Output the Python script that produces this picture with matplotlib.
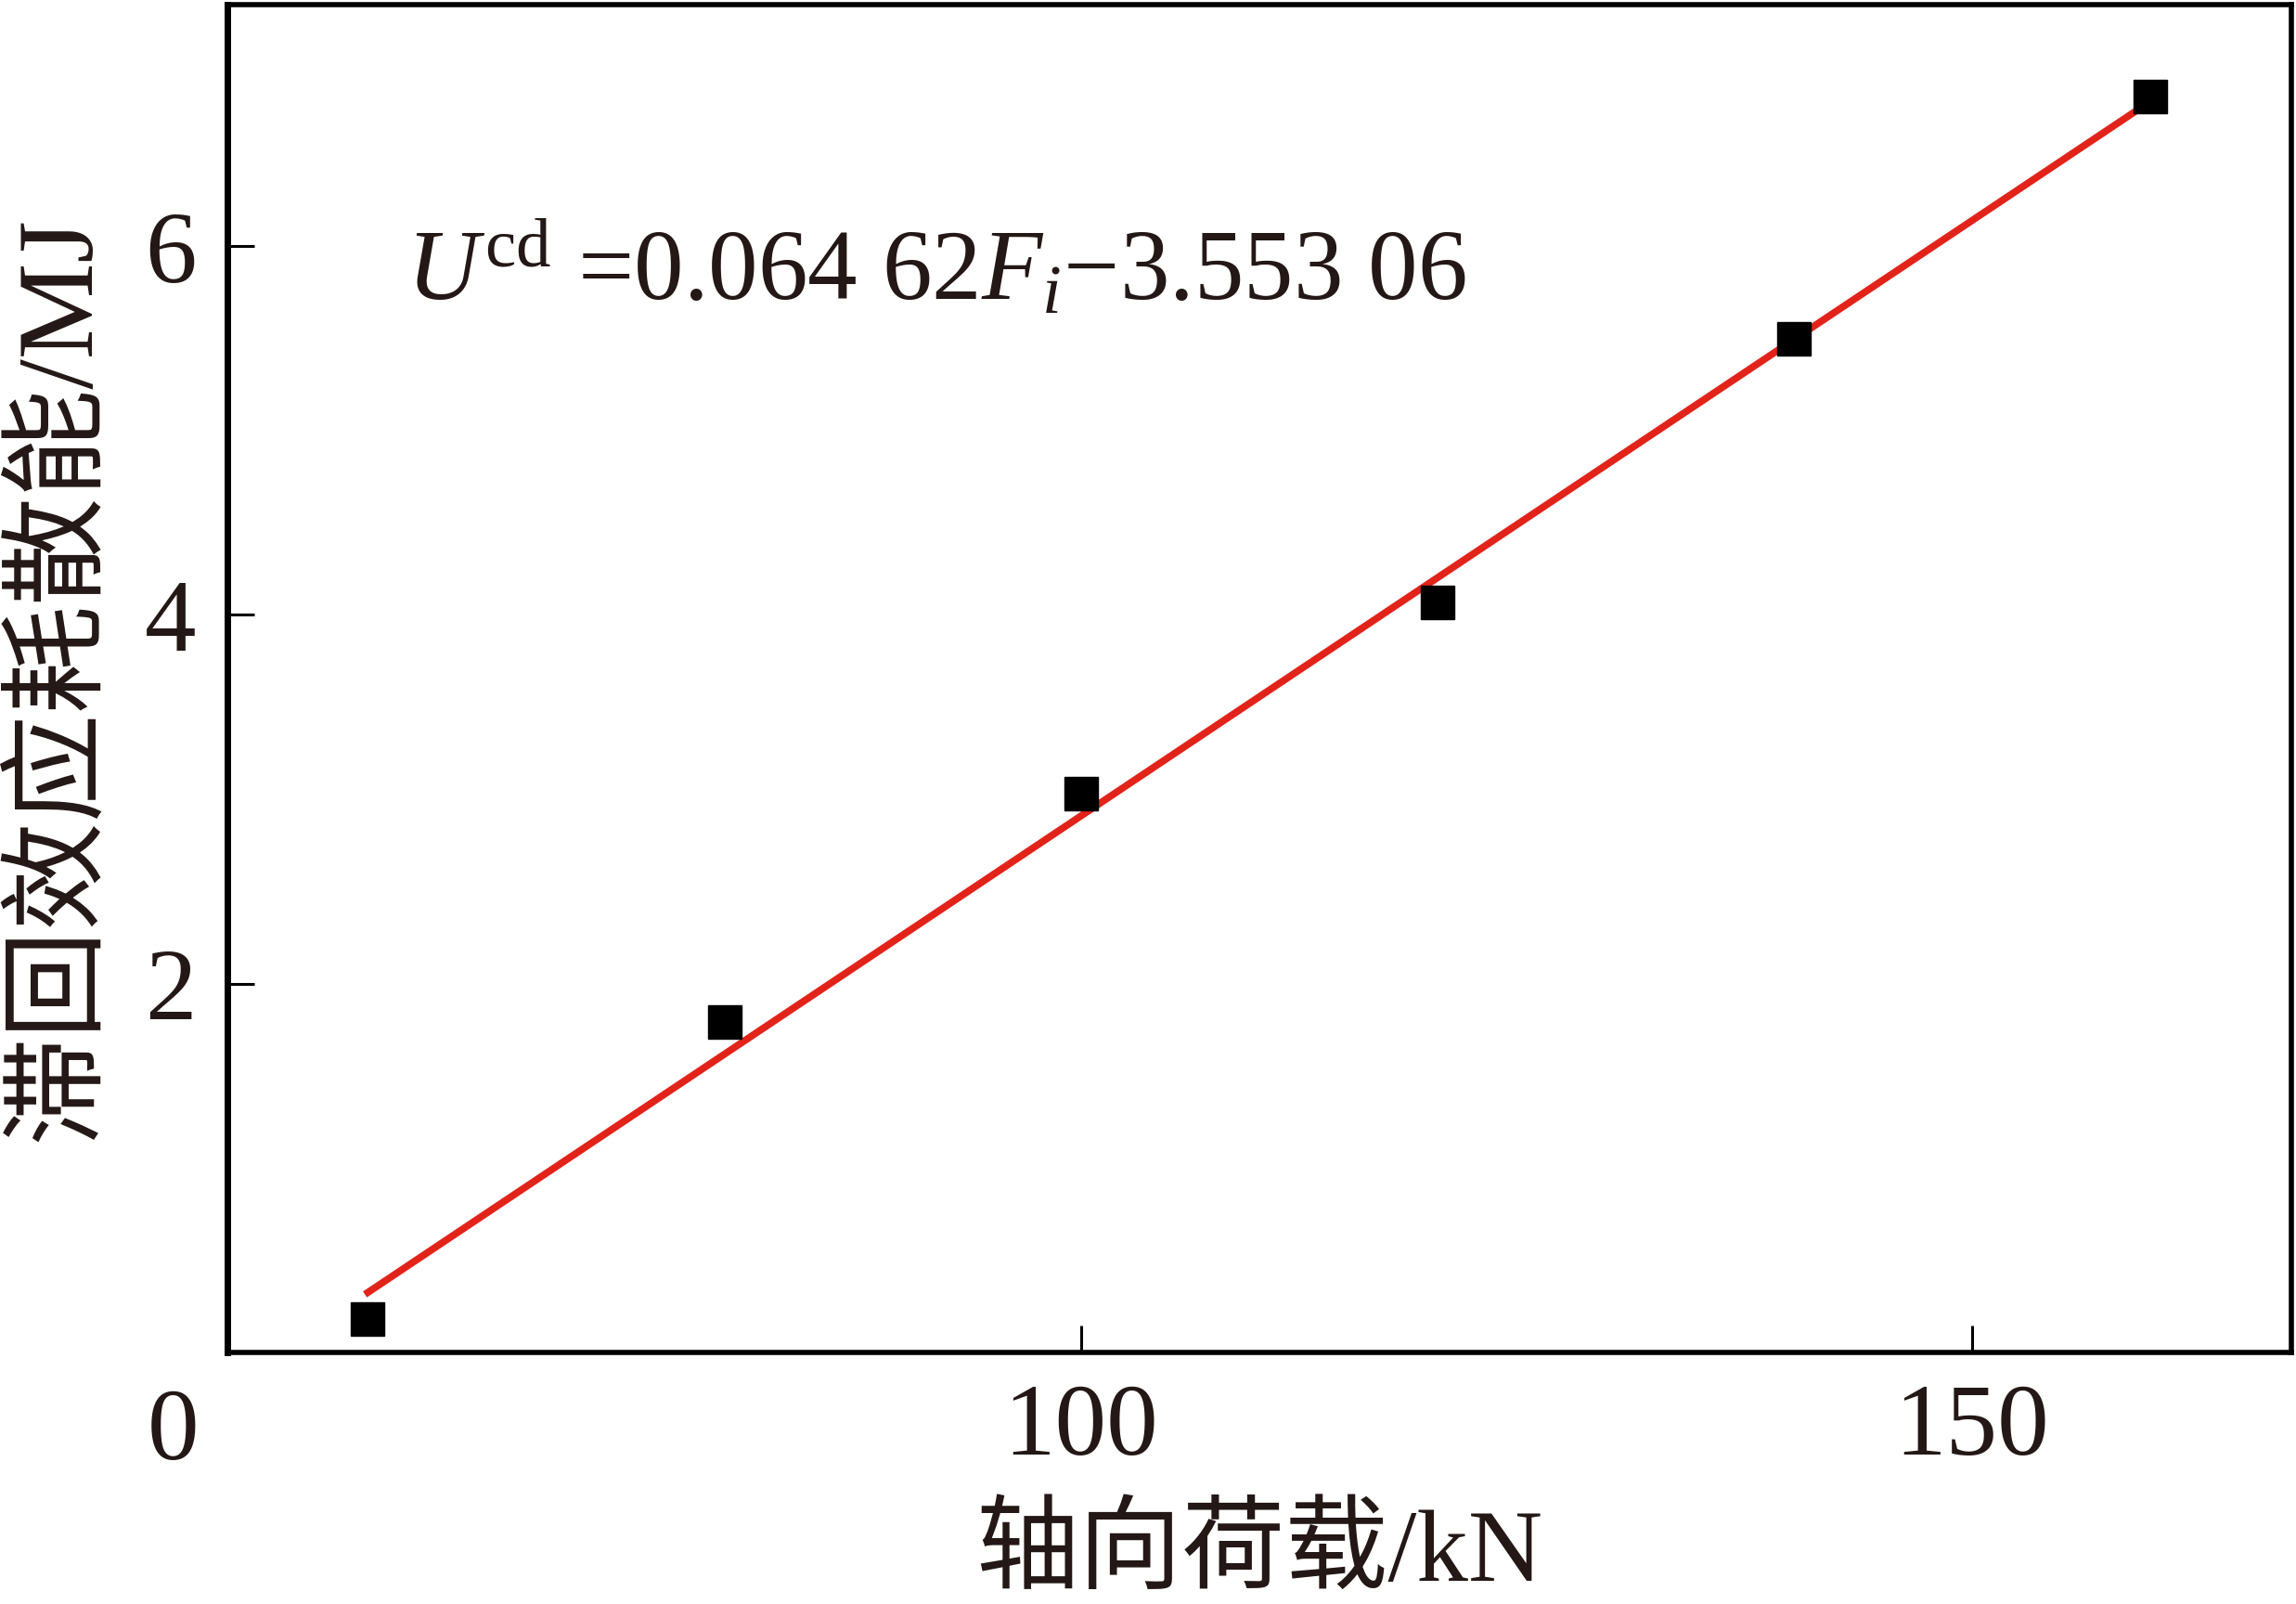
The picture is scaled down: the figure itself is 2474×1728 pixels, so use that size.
import matplotlib
matplotlib.use('Agg')
import matplotlib.pyplot as plt
import numpy as np

# 轴向荷载 / 滞回效应耗散能
load_kn = [60, 80, 100, 120, 140, 160]
energy_mj = [0.18, 1.79, 3.03, 4.07, 5.50, 6.81]
# 拟合直线 U = a*F + b
fit_a = 0.06462
fit_b = -3.55306
fit_x = [60, 160]
x_ticks = [100, 150]
y_ticks = [2, 4, 6]

plt.rcParams['font.family'] = ['Liberation Serif', 'Noto Sans CJK SC']
plt.rcParams['mathtext.fontset'] = 'custom'
plt.rcParams['mathtext.rm'] = 'Liberation Serif'
plt.rcParams['mathtext.it'] = 'Liberation Serif:italic'

fig = plt.figure(figsize=(24.74, 17.28), dpi=100)
ax = fig.add_axes([0.0989, 0.157, 0.899, 0.840])

fx = np.array(fit_x)
ax.plot(fx, fit_a * fx + fit_b, color='#e2231a', lw=5.5, zorder=2)
ax.plot(load_kn, energy_mj, ls='none', marker='s', ms=26, color='black', zorder=3)

ax.set_xlim(52.1, 167.9)
ax.set_ylim(0, 7.31)
ax.set_xticks(x_ticks)
ax.set_yticks(y_ticks)
ax.tick_params(direction='in', length=21, width=2.2, labelsize=80, pad=24,
               colors='black', labelcolor='#231815')
for s in ax.spines.values():
    s.set_linewidth(4)
ax.spines['left'].set_linewidth(5)

# 原点标注
ax.text(-0.026, -0.061, '0', transform=ax.transAxes, fontsize=80,
        ha='center', va='center', color='#231815')

ax.set_xlabel('轴向荷载/kN', fontsize=80, color='#231815', labelpad=24)
ax.set_ylabel('滞回效应耗散能/MJ', fontsize=84, color='#231815', labelpad=25)

ax.text(0.087, 0.802, r'$U^{\mathrm{cd}}$ =0.064 62$F_i$−3.553 06',
        transform=ax.transAxes, fontsize=77, color='#231815', va='center')

fig.savefig('out.png', dpi=100)
